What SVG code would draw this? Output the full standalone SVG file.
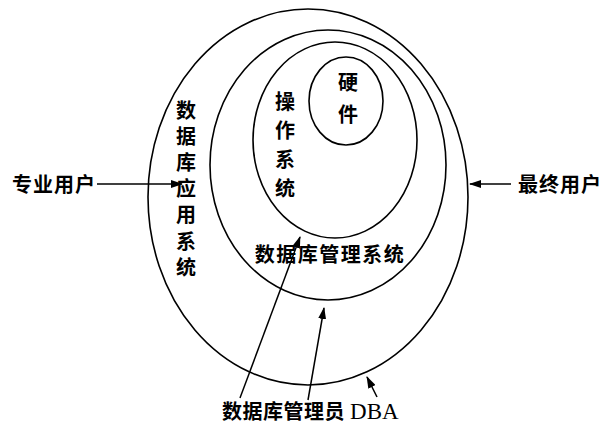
<svg xmlns="http://www.w3.org/2000/svg" width="604" height="430" viewBox="0 0 604 430">
<defs>
<marker id="ah" markerWidth="12" markerHeight="8" refX="11" refY="4" orient="auto" markerUnits="userSpaceOnUse">
<path d="M0,0 L12,4 L0,8 z" fill="#000"/>
</marker>
<style>
.e{fill:none;stroke:#000;stroke-width:1.6}
.t{font-family:"Noto Sans CJK SC",sans-serif;font-size:20px;font-weight:bold;fill:#000}
.v{writing-mode:vertical-rl;text-orientation:upright}
.c{stroke:#000;stroke-width:1.5;fill:none}
</style>
</defs>
<rect width="604" height="430" fill="#fff"/>
<g id="app">
<ellipse class="e" cx="308" cy="197" rx="160" ry="188"/>
<text class="t v" x="186" y="100" letter-spacing="6.2">数据库应用系统</text>
</g>
<g id="dbms">
<ellipse class="e" cx="328" cy="165" rx="118" ry="135"/>
<text class="t" x="330" y="262" text-anchor="middle" letter-spacing="1.5">数据库管理系统</text>
</g>
<g id="os">
<ellipse class="e" cx="335" cy="140" rx="82" ry="98"/>
<text class="t v" x="285" y="91" letter-spacing="9">操作系统</text>
</g>
<g id="hw">
<ellipse class="e" cx="346" cy="101" rx="37" ry="44"/>
<text class="t v" x="348" y="72" letter-spacing="12">硬件</text>
</g>
<g id="pro">
<text class="t" x="12" y="192" letter-spacing="1">专业用户</text>
</g>
<g id="end">
<text class="t" x="518" y="192" letter-spacing="1">最终用户</text>
</g>
<g id="dba">
<text class="t" x="222" y="419" letter-spacing="0.5">数据库管理员 <tspan font-family="Liberation Serif,serif" font-weight="normal" font-size="23" letter-spacing="0">DBA</tspan></text>
</g>
<g id="connectors">
<line class="c" x1="97" y1="184" x2="182" y2="184" marker-end="url(#ah)"/>
<line class="c" x1="511" y1="184" x2="470" y2="184" marker-end="url(#ah)"/>
<line class="c" x1="240" y1="398" x2="300" y2="237" marker-end="url(#ah)"/>
<line class="c" x1="308" y1="400" x2="324" y2="308" marker-end="url(#ah)"/>
<line class="c" x1="377" y1="397" x2="367" y2="377" marker-end="url(#ah)"/>
</g>
</svg>
